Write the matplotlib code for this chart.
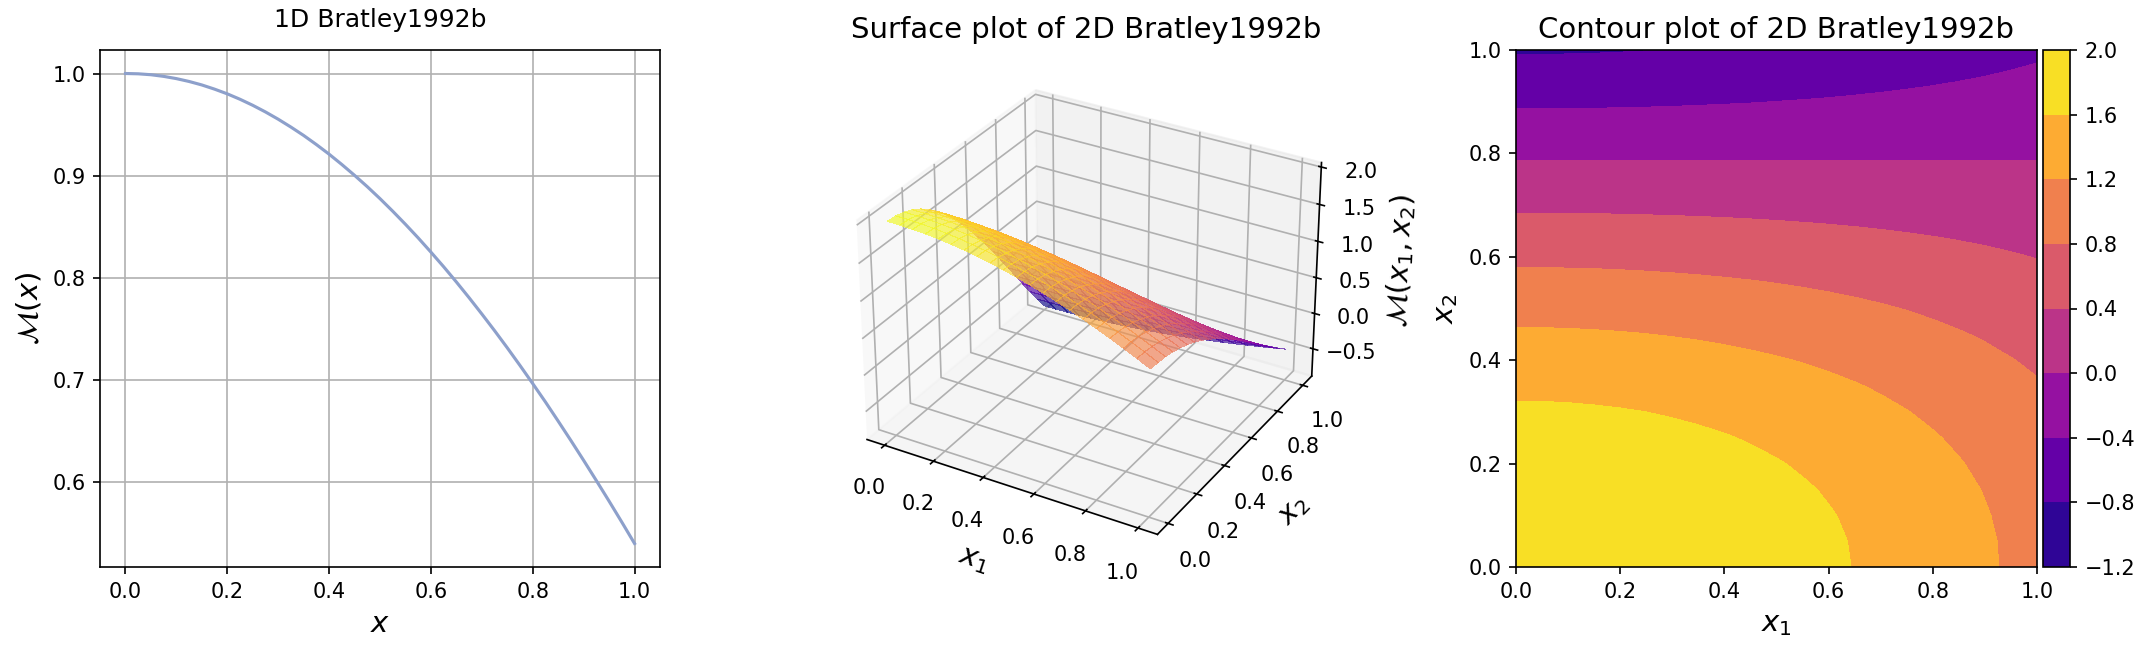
import numpy as np
import matplotlib
matplotlib.use('Agg')
import matplotlib.pyplot as plt

# 1D test function, sampled along x
x_1d = [0.0, 0.025, 0.05, 0.075, 0.1, 0.125, 0.15, 0.175, 0.2, 0.225, 0.25, 0.275, 0.3, 0.325,
        0.35, 0.375, 0.4, 0.425, 0.45, 0.475, 0.5, 0.525, 0.55, 0.575, 0.6, 0.625, 0.65, 0.675,
        0.7, 0.725, 0.75, 0.775, 0.8, 0.825, 0.85, 0.875, 0.9, 0.925, 0.95, 0.975, 1.0]
y_1d = [1.0, 0.9997, 0.9988, 0.9972, 0.995, 0.9922, 0.9888, 0.9847, 0.9801, 0.9748, 0.9689, 0.9624, 0.9553, 0.9476,
        0.9394, 0.9305, 0.9211, 0.911, 0.9004, 0.8893, 0.8776, 0.8653, 0.8525, 0.8392, 0.8253, 0.811, 0.7961, 0.7807,
        0.7648, 0.7485, 0.7317, 0.7144, 0.6967, 0.6787, 0.66, 0.641, 0.6216, 0.6018, 0.5817, 0.5612, 0.5403]

# 2D test function, rows along x2 and columns along x1
x1_grid = [0.0, 0.05, 0.1, 0.15, 0.2, 0.25, 0.3, 0.35, 0.4, 0.45, 0.5,
           0.55, 0.6, 0.65, 0.7, 0.75, 0.8, 0.85, 0.9, 0.95, 1.0]
x2_grid = [0.0, 0.05, 0.1, 0.15, 0.2, 0.25, 0.3, 0.35, 0.4, 0.45, 0.5,
           0.55, 0.6, 0.65, 0.7, 0.75, 0.8, 0.85, 0.9, 0.95, 1.0]
z_grid = [
    [2.000, 1.998, 1.990, 1.978, 1.960, 1.938, 1.911, 1.879, 1.842, 1.801, 1.755, 1.705, 1.651, 1.592, 1.530, 1.463, 1.393, 1.320, 1.243, 1.163, 1.081],
    [1.990, 1.988, 1.980, 1.968, 1.950, 1.928, 1.901, 1.869, 1.833, 1.792, 1.746, 1.696, 1.642, 1.584, 1.522, 1.456, 1.386, 1.313, 1.237, 1.158, 1.075],
    [1.960, 1.958, 1.950, 1.938, 1.921, 1.899, 1.872, 1.841, 1.805, 1.765, 1.720, 1.671, 1.618, 1.560, 1.499, 1.434, 1.366, 1.294, 1.218, 1.140, 1.059],
    [1.911, 1.909, 1.901, 1.890, 1.873, 1.852, 1.826, 1.795, 1.760, 1.721, 1.677, 1.629, 1.577, 1.521, 1.462, 1.398, 1.331, 1.261, 1.188, 1.112, 1.033],
    [1.842, 1.840, 1.833, 1.821, 1.805, 1.785, 1.760, 1.730, 1.697, 1.659, 1.617, 1.570, 1.520, 1.466, 1.409, 1.348, 1.283, 1.216, 1.145, 1.071, 0.995],
    [1.755, 1.753, 1.746, 1.735, 1.720, 1.700, 1.677, 1.649, 1.617, 1.580, 1.540, 1.496, 1.448, 1.397, 1.342, 1.284, 1.223, 1.158, 1.091, 1.021, 0.948],
    [1.651, 1.649, 1.643, 1.632, 1.618, 1.600, 1.577, 1.551, 1.521, 1.487, 1.449, 1.407, 1.363, 1.314, 1.263, 1.208, 1.150, 1.090, 1.026, 0.960, 0.892],
    [1.530, 1.528, 1.522, 1.513, 1.500, 1.482, 1.462, 1.437, 1.409, 1.378, 1.343, 1.304, 1.263, 1.218, 1.170, 1.120, 1.066, 1.010, 0.951, 0.890, 0.827],
    [1.393, 1.391, 1.386, 1.377, 1.365, 1.350, 1.331, 1.309, 1.283, 1.254, 1.222, 1.188, 1.150, 1.109, 1.065, 1.019, 0.971, 0.919, 0.866, 0.810, 0.753],
    [1.243, 1.242, 1.237, 1.229, 1.218, 1.204, 1.187, 1.168, 1.145, 1.119, 1.091, 1.060, 1.026, 0.990, 0.951, 0.909, 0.866, 0.820, 0.773, 0.723, 0.672],
    [1.081, 1.080, 1.076, 1.069, 1.059, 1.047, 1.033, 1.016, 0.996, 0.973, 0.949, 0.922, 0.892, 0.861, 0.827, 0.791, 0.753, 0.713, 0.672, 0.629, 0.584],
    [0.907, 0.906, 0.902, 0.897, 0.889, 0.879, 0.866, 0.852, 0.835, 0.817, 0.796, 0.773, 0.749, 0.722, 0.694, 0.664, 0.632, 0.599, 0.564, 0.528, 0.490],
    [0.725, 0.724, 0.721, 0.717, 0.711, 0.702, 0.693, 0.681, 0.668, 0.653, 0.636, 0.618, 0.598, 0.577, 0.554, 0.530, 0.505, 0.479, 0.451, 0.422, 0.392],
    [0.535, 0.534, 0.532, 0.529, 0.524, 0.518, 0.511, 0.503, 0.493, 0.482, 0.470, 0.456, 0.442, 0.426, 0.409, 0.391, 0.373, 0.353, 0.333, 0.311, 0.289],
    [0.340, 0.340, 0.338, 0.336, 0.333, 0.329, 0.325, 0.319, 0.313, 0.306, 0.298, 0.290, 0.281, 0.271, 0.260, 0.249, 0.237, 0.224, 0.211, 0.198, 0.184],
    [0.141, 0.141, 0.140, 0.139, 0.138, 0.137, 0.135, 0.132, 0.130, 0.127, 0.124, 0.120, 0.116, 0.112, 0.108, 0.103, 0.098, 0.093, 0.088, 0.082, 0.076],
    [-0.058, -0.058, -0.058, -0.057, -0.057, -0.056, -0.055, -0.054, -0.053, -0.052, -0.051, -0.049, -0.048, -0.046, -0.044, -0.042, -0.040, -0.038, -0.036, -0.034, -0.031],
    [-0.258, -0.258, -0.257, -0.255, -0.253, -0.250, -0.246, -0.242, -0.238, -0.232, -0.226, -0.220, -0.213, -0.205, -0.197, -0.189, -0.180, -0.170, -0.160, -0.150, -0.139],
    [-0.454, -0.453, -0.452, -0.449, -0.445, -0.440, -0.434, -0.426, -0.418, -0.409, -0.398, -0.387, -0.375, -0.361, -0.347, -0.332, -0.316, -0.300, -0.282, -0.264, -0.245],
    [-0.647, -0.646, -0.644, -0.640, -0.634, -0.627, -0.618, -0.608, -0.596, -0.583, -0.568, -0.552, -0.534, -0.515, -0.495, -0.473, -0.451, -0.427, -0.402, -0.376, -0.350],
    [-0.832, -0.831, -0.828, -0.823, -0.815, -0.806, -0.795, -0.782, -0.766, -0.749, -0.730, -0.709, -0.687, -0.662, -0.636, -0.609, -0.580, -0.549, -0.517, -0.484, -0.450],
]
contour_levels = [-1.2, -0.8, -0.4, 0.0, 0.4, 0.8, 1.2, 1.6, 2.0]

fig_w, fig_h = 2149, 654
dpi = 150


def px_axes(fig, left, top, right, bottom, **kwargs):
    # Axes placed by pixel edges, measured from the top left of the figure
    rect = [left / fig_w, 1 - bottom / fig_h, (right - left) / fig_w, (bottom - top) / fig_h]
    return fig.add_axes(rect, **kwargs)


def main():
    fig = plt.figure(figsize=(fig_w / dpi, fig_h / dpi), dpi=dpi)
    mesh_x1, mesh_x2 = np.meshgrid(x1_grid, x2_grid)
    z = np.array(z_grid)

    # 1D line
    ax1 = px_axes(fig, 100, 50, 660, 567)
    ax1.plot(x_1d, y_1d, color='#8da0cb', linewidth=1.5)
    ax1.grid(True)
    ax1.set_title('1D Bratley1992b', fontsize=12, pad=11)
    ax1.set_xlabel('$x$', fontsize=14)
    ax1.set_ylabel(r'$\mathcal{M}(x)$', fontsize=14)

    # Surface
    ax2 = px_axes(fig, 806, 50, 1367, 567, projection='3d')
    ax2.plot_surface(mesh_x1, mesh_x2, z, cmap='plasma', linewidth=0, antialiased=False, alpha=0.65)
    ax2.set_title('Surface plot of 2D Bratley1992b', fontsize=14)
    ax2.set_xlabel('$x_1$', fontsize=14)
    ax2.set_ylabel('$x_2$', fontsize=14)
    ax2.set_zlabel(r'$\mathcal{M}(x_1, x_2)$', fontsize=14)

    # Filled contour and its colorbar
    ax3 = px_axes(fig, 1516, 50, 2037, 567)
    cf = ax3.contourf(mesh_x1, mesh_x2, z, levels=contour_levels, cmap='plasma')
    ax3.set_title('Contour plot of 2D Bratley1992b', fontsize=14)
    ax3.set_xlabel('$x_1$', fontsize=14)
    ax3.set_ylabel('$x_2$', fontsize=14)
    cax = px_axes(fig, 2043, 50, 2070, 567)
    fig.colorbar(cf, cax=cax)

    fig.savefig('out.png', dpi=dpi)


if __name__ == "__main__":
    main()
